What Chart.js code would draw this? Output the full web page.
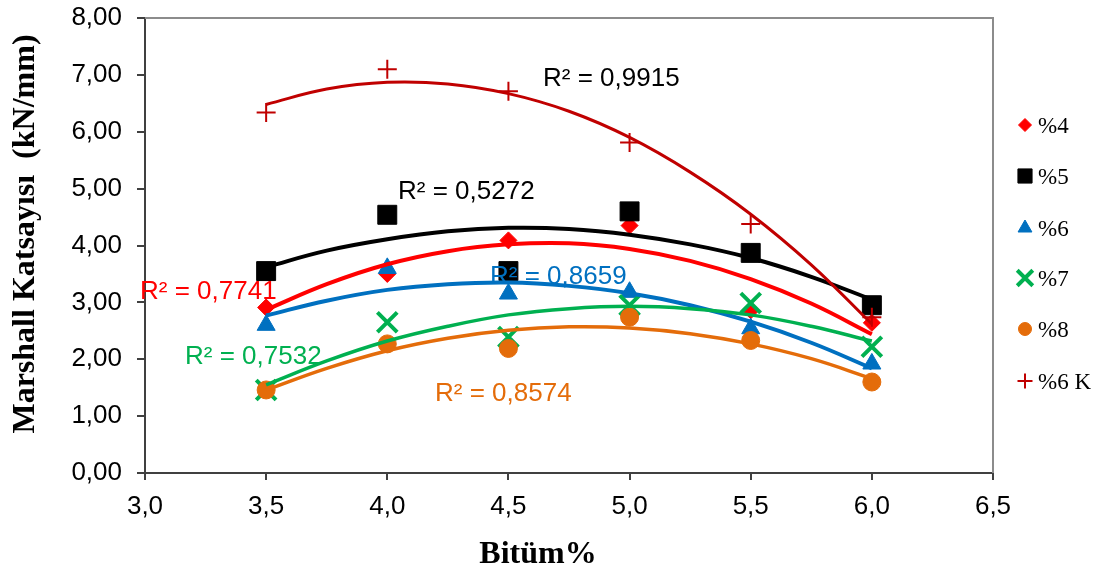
<!DOCTYPE html>
<html><head><meta charset="utf-8">
<script src="https://cdn.jsdelivr.net/npm/chart.js@4.4.0/dist/chart.umd.min.js"></script>
<style>html,body{margin:0;padding:0;background:#fff;}</style>
</head><body>
<canvas id="c" width="1099" height="574" style="display:block;width:1099px;height:574px"></canvas>
<script>
// ---- data ----
const bitumen = [3.5, 4.0, 4.5, 5.0, 5.5, 6.0];
const p4  = [2.91, 3.50, 4.09, 4.35, 2.86, 2.64];
const p5  = [3.55, 4.54, 3.55, 4.60, 3.87, 2.95];
const p6  = [2.60, 3.60, 3.15, 3.18, 2.54, 1.92];
const p7  = [1.46, 2.65, 2.39, 2.95, 2.99, 2.22];
const p8  = [1.46, 2.27, 2.19, 2.74, 2.33, 1.60];
const p6K = [6.34, 7.10, 6.71, 5.81, 4.38, 2.74];

// trendline values (2nd order polynomial trendlines)
const trendX = [3.5, 3.75, 4.0, 4.25, 4.5, 4.75, 5.0, 5.25, 5.5, 5.75, 6.0];
const t4  = [2.87, 3.32, 3.67, 3.90, 4.02, 4.04, 3.94, 3.73, 3.41, 2.98, 2.44];
const t5  = [3.62, 3.91, 4.11, 4.25, 4.31, 4.29, 4.19, 4.02, 3.78, 3.45, 3.05];
const t6  = [2.77, 3.03, 3.22, 3.32, 3.35, 3.29, 3.16, 2.95, 2.66, 2.29, 1.84];
const t7  = [1.55, 1.97, 2.32, 2.58, 2.78, 2.89, 2.93, 2.89, 2.78, 2.58, 2.32];
const t8  = [1.46, 1.84, 2.15, 2.37, 2.51, 2.57, 2.55, 2.45, 2.27, 2.01, 1.66];
const t6K = [6.48, 6.75, 6.87, 6.84, 6.67, 6.36, 5.90, 5.29, 4.55, 3.66, 2.62];

const seriesNames = ['%4', '%5', '%6', '%7', '%8', '%6 K'];
const r2Texts = ['R² = 0,7741', 'R² = 0,5272', 'R² = 0,8659', 'R² = 0,7532', 'R² = 0,8574', 'R² = 0,9915'];
const xTickLabels = ['3,0', '3,5', '4,0', '4,5', '5,0', '5,5', '6,0', '6,5'];
const yTickLabels = ['0,00', '1,00', '2,00', '3,00', '4,00', '5,00', '6,00', '7,00', '8,00'];
const xTitle = 'Bitüm%';
const yTitle = 'Marshall Katsayısı  (kN/mm)';

// ---- styling ----
const colors = ['#FF0000', '#000000', '#0070C0', '#00B050', '#E46C0A', '#C00000'];
const styles = ['rectRot', 'rect', 'triangle', 'crossRot', 'circle', 'cross'];
const radii  = [8.5, 13.4, 10.4, 14, 9, 9.5];
const bws    = [1, 1, 1, 4, 1, 2];
const legendRadii = [6.5, 10, 8, 11, 6.5, 7.5];
const trendWidths = [4, 4, 4, 3.5, 3.5, 3];
const seriesData = [p4, p5, p6, p7, p8, p6K];
const trendData = [t4, t5, t6, t7, t8, t6K];

const pts = (xs, ys) => xs.map((x, i) => ({x: x, y: ys[i]}));

const datasets = [];
seriesData.forEach((d, i) => {
  datasets.push({
    label: seriesNames[i], data: pts(bitumen, d), showLine: false,
    pointStyle: styles[i], pointRadius: radii[i], pointHoverRadius: radii[i],
    backgroundColor: colors[i], borderColor: colors[i], pointBorderWidth: bws[i],
    order: 12 - i
  });
});
trendData.forEach((d, i) => {
  datasets.push({
    label: 'trend ' + seriesNames[i], data: pts(trendX, d), showLine: true,
    pointRadius: 0, pointHoverRadius: 0, borderColor: colors[i], backgroundColor: colors[i],
    borderWidth: trendWidths[i], tension: 0.4, fill: false,
    order: 6 - i
  });
});

const r2Pos = [ // [left x, baseline y]
  [140, 299], [398, 199], [490, 284], [185, 364], [435, 401], [543, 86]
];
const legendY = [125, 176, 228, 278, 329, 381];

const decor = {
  id: 'decor',
  afterDraw(chart) {
    const ctx = chart.ctx;
    const a = chart.chartArea;
    ctx.save();
    // top & right plot frame
    ctx.strokeStyle = '#8c8c8c';
    ctx.lineWidth = 2;
    ctx.beginPath();
    ctx.moveTo(a.left, a.top); ctx.lineTo(a.right, a.top); ctx.lineTo(a.right, a.bottom);
    ctx.stroke();
    // R² labels
    ctx.font = '26px "Liberation Sans", Arial, sans-serif';
    ctx.textAlign = 'left'; ctx.textBaseline = 'alphabetic';
    r2Texts.forEach((t, i) => {
      ctx.fillStyle = i === 1 ? '#000000' : (i === 5 ? '#000000' : colors[i]);
      ctx.fillText(t, r2Pos[i][0], r2Pos[i][1]);
    });
    // axis titles
    ctx.fillStyle = '#000';
    ctx.font = 'bold 32px "Liberation Serif", "Times New Roman", serif';
    ctx.textAlign = 'center';
    ctx.fillText(xTitle, 538, 563);
    ctx.save();
    ctx.translate(34, 234);
    ctx.rotate(-Math.PI / 2);
    ctx.fillText(yTitle, 0, 0);
    ctx.restore();
    // legend
    ctx.font = '23px "Liberation Serif", "Times New Roman", serif';
    ctx.textAlign = 'left';
    seriesNames.forEach((n, i) => {
      ctx.fillStyle = colors[i]; ctx.strokeStyle = colors[i];
      ctx.lineWidth = styles[i] === 'crossRot' ? 4 : (styles[i] === 'cross' ? 2 : 1);
      Chart.helpers.drawPoint(ctx, {pointStyle: styles[i], radius: legendRadii[i], rotation: 0, borderWidth: ctx.lineWidth}, 1025, legendY[i]);
      ctx.fillStyle = '#000';
      ctx.fillText(n, 1038, legendY[i] + 8);
    });
    ctx.restore();
  }
};

new Chart(document.getElementById('c'), {
  type: 'scatter',
  data: { datasets: datasets },
  options: {
    responsive: false, animation: false, devicePixelRatio: 1,
    layout: { padding: { top: 17, right: 106, left: 0, bottom: 0 } },
    plugins: { legend: { display: false }, tooltip: { enabled: false } },
    scales: {
      x: {
        type: 'linear', min: 3, max: 6.5,
        ticks: { stepSize: 0.5, color: '#000', padding: 11,
          font: { family: '"Liberation Sans", Arial, sans-serif', size: 26 },
          callback: (v, i) => xTickLabels[i] },
        grid: { display: true, drawOnChartArea: false, drawTicks: true, tickLength: 7, color: '#404040', lineWidth: 2 },
        border: { display: true, color: '#404040', width: 2 },
        afterFit: s => { s.height = 101; }
      },
      y: {
        type: 'linear', min: 0, max: 8,
        ticks: { stepSize: 1, color: '#000', padding: 15,
          font: { family: '"Liberation Sans", Arial, sans-serif', size: 26 },
          callback: (v, i) => yTickLabels[i] },
        grid: { display: true, drawOnChartArea: false, drawTicks: true, tickLength: 8, color: '#404040', lineWidth: 2 },
        border: { display: true, color: '#404040', width: 2 },
        afterFit: s => { s.width = 145; s.paddingTop = 0; s.paddingBottom = 0; }
      }
    }
  },
  plugins: [decor]
});
</script>
</body></html>
